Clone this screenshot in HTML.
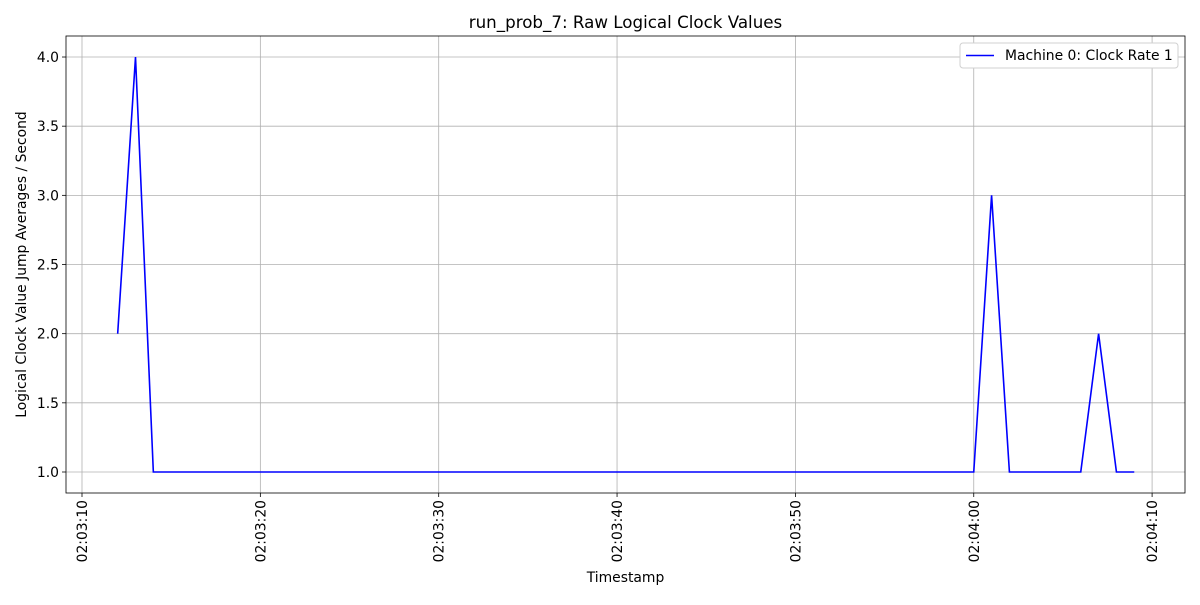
<!DOCTYPE html>
<html><head><meta charset="utf-8"><style>
body{margin:0;background:#fff;}
svg text{font-family:"DejaVu Sans","Liberation Sans",sans-serif;fill:#000;}
</style></head><body>
<svg id="chart" width="1200" height="600" xmlns="http://www.w3.org/2000/svg"></svg>
<script>
const seconds = [];
for (let s = 12; s <= 69; s++) seconds.push(s); // seconds after 02:03:00
const values = [2,4,1,1,1,1,1,1,1,1,1,1,1,1,1,1,1,1,1,1,1,1,1,1,1,1,1,1,1,1,1,1,1,1,1,1,1,1,1,1,1,1,1,1,1,1,1,1,1,3,1,1,1,1,1,2,1,1];
const xTicks = [10,20,30,40,50,60,70];
const xTickLabels = ["02:03:10","02:03:20","02:03:30","02:03:40","02:03:50","02:04:00","02:04:10"];
const yTicks = [1.0,1.5,2.0,2.5,3.0,3.5,4.0];

const L=66,R=1185,T=36,B=493;
const xs = s => 82 + (s-10)*17.835;
const ys = v => 472 - (v-1)*138.33;
const svg=document.getElementById('chart');
const NS="http://www.w3.org/2000/svg";
function mk(tag,attrs,parent){const e=document.createElementNS(NS,tag);for(const k in attrs)e.setAttribute(k,attrs[k]);(parent||svg).appendChild(e);return e;}

const grid=mk('g',{});


xTicks.forEach((t,i)=>{
  const x=xs(t);
  mk('line',{x1:x,x2:x,y1:T,y2:B,stroke:'#b0b0b0','stroke-width':0.8},grid);
  mk('line',{x1:x,x2:x,y1:B,y2:B+4,stroke:'#000','stroke-width':0.8});
  const tx=mk('text',{x:0,y:0,'font-size':13.9,'text-anchor':'end',transform:`translate(${x+5},${B+7}) rotate(-90)`});
  tx.textContent=xTickLabels[i];
  
  
});
yTicks.forEach(v=>{
  const y=ys(v);
  mk('line',{x1:L,x2:R,y1:y,y2:y,stroke:'#b0b0b0','stroke-width':0.8},grid);
  mk('line',{x1:L-4,x2:L,y1:y,y2:y,stroke:'#000','stroke-width':0.8});
  const tx=mk('text',{x:L-7,y:y+5,'font-size':13.9,'text-anchor':'end'});
  tx.textContent=v.toFixed(1);
  
  
});
const line=mk('polyline',{points:seconds.map((s,i)=>xs(s)+','+ys(values[i])).join(' '),fill:'none',stroke:'#0000ff','stroke-width':1.6});


const frame=mk('rect',{x:L,y:T,width:R-L,height:B-T,fill:'none',stroke:'#000','stroke-width':0.8});



const title=mk('text',{x:(L+R)/2,y:28,'font-size':16.7,'text-anchor':'middle'});
title.textContent='run_prob_7: Raw Logical Clock Values';


const xl=mk('text',{x:(L+R)/2,y:582,'font-size':13.9,'text-anchor':'middle'});
xl.textContent='Timestamp';


const yl=mk('text',{x:0,y:0,'font-size':13.9,'text-anchor':'middle',transform:`translate(26,${(T+B)/2}) rotate(-90)`});
yl.textContent='Logical Clock Value Jump Averages / Second';



const lg=mk('g',{});


mk('rect',{x:960,y:43,width:218,height:25,rx:3,fill:'#fff',stroke:'#d0d0d0','stroke-width':1},lg);
mk('line',{x1:966,x2:994,y1:55.5,y2:55.5,stroke:'#0000ff','stroke-width':1.6},lg);
const lt=mk('text',{x:1005,y:60,'font-size':13.9},lg);
lt.textContent='Machine 0: Clock Rate 1';


</script>
</body></html>
